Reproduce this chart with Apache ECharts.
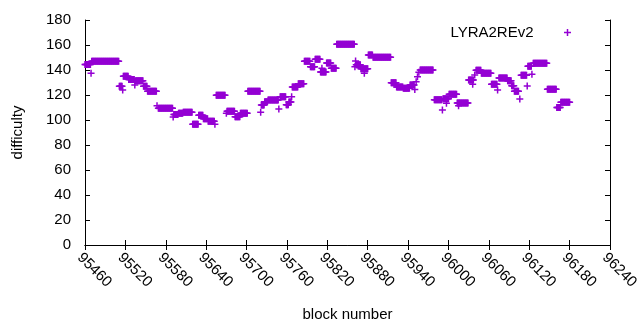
<!DOCTYPE html>
<html>
<head>
<meta charset="utf-8">
<script src="https://cdn.jsdelivr.net/npm/echarts@6/dist/echarts.min.js"></script>
<style>
html, body { margin: 0; padding: 0; background: #fff; }
#chart { width: 640px; height: 330px; }
</style>
</head>
<body>
<div id="chart"></div>
<script>
// runs of consecutive blocks that share one difficulty value
const runStart = [95460, 95470, 95511, 95517, 95525, 95535, 95547, 95553, 95569, 95592,
    95599, 95606, 95620, 95629, 95636, 95643, 95655, 95671, 95683, 95691,
    95702, 95722, 95727, 95732, 95750, 95759, 95763, 95768, 95777, 95786,
    95795, 95802, 95810, 95819, 95826, 95834, 95863, 95870, 95881, 95888,
    95915, 95923, 95933, 95943, 95958, 95979, 95992, 96001, 96013, 96030,
    96041, 96049, 96064, 96075, 96088, 96094, 96098, 96108, 96118, 96126,
    96147, 96161, 96167];
const runEnd = [95468, 95510, 95515, 95524, 95533, 95546, 95552, 95566, 95590, 95598,
    95605, 95619, 95628, 95635, 95642, 95652, 95668, 95682, 95690, 95701,
    95720, 95726, 95731, 95747, 95758, 95762, 95766, 95776, 95785, 95794,
    95801, 95809, 95818, 95825, 95833, 95860, 95869, 95880, 95887, 95914,
    95922, 95932, 95942, 95949, 95977, 95990, 96000, 96012, 96029, 96037,
    96048, 96063, 96072, 96087, 96093, 96097, 96104, 96116, 96123, 96146,
    96160, 96166, 96180];
const runValue = [144.5, 147, 127, 135, 132.5, 131.5, 127, 123, 109.5, 104.5,
    105.5, 106.2, 96.6, 103.8, 101, 99, 119.8, 107, 102.6, 105.4,
    123, 112, 114.6, 116, 118.6, 112.2, 114.4, 126.4, 129, 147,
    142.6, 148.6, 138.5, 145.6, 141.4, 160.6, 144.2, 141, 152, 150.2,
    129.8, 126.4, 125.4, 128, 140, 116.2, 117, 120.6, 113.6, 132,
    139.8, 137.4, 128.6, 133.6, 131.4, 127.4, 123, 135.8, 143, 145.4,
    124.6, 110, 114.2];

// single blocks away from the runs
const pointBlock = [95469, 95516, 95534, 95567, 95591, 95653, 95670, 95721, 95748, 95767,
    95812, 95861, 95862, 95875, 95950, 95952, 95954, 95956, 95991, 95997,
    96015, 96036, 96039, 96073, 96106, 96117, 96124];
const pointValue = [137.5, 124, 128, 111.5, 102.5, 96.6, 105.4, 106.2, 108.8, 118.6,
    141.4, 142.6, 147.2, 137.4, 124.5, 130.6, 134.6, 138.2, 108, 113.4,
    111.4, 128.6, 136, 124, 116.8, 127.2, 136.6];

const seriesName = 'LYRA2REv2';
const xMin = 95460, xMax = 96240, xStep = 60;
const yMin = 0, yMax = 180, yStep = 20;

const points = [];
runStart.forEach((s, i) => {
    for (let b = s; b <= runEnd[i]; b++) points.push([b, runValue[i]]);
});
pointBlock.forEach((b, i) => points.push([b, pointValue[i]]));

const purple = '#9400d3';
const plus = 'path://M0,2.75H7V4.25H0ZM2.75,0H4.25V7H2.75Z';
const font = 'Liberation Sans';

const tick = { show: true, inside: true, length: 5, lineStyle: { color: '#000' } };
const line = { show: true, lineStyle: { color: '#000', width: 1 } };

const chart = echarts.init(document.getElementById('chart'));
chart.setOption({
    animation: false,
    backgroundColor: '#fff',
    textStyle: { fontFamily: font },
    grid: { left: 85, right: 30, top: 20, bottom: 85, containLabel: false, outerBoundsMode: 'none' },
    legend: {
        data: [seriesName],
        right: 69,
        top: 25,
        padding: 0,
        align: 'right',
        itemWidth: 58,
        itemHeight: 7,
        textStyle: { fontSize: 15, color: '#000', fontFamily: font }
    },
    xAxis: [
        {
            type: 'value', min: xMin, max: xMax, interval: xStep,
            axisLine: line, axisTick: tick, splitLine: { show: false },
            axisLabel: {
                rotate: -45, fontSize: 15, color: '#000', margin: 5, fontFamily: font,
                verticalAlign: 'top',
                formatter: v => String(v)
            },
            name: 'block number', nameLocation: 'middle', nameGap: 62,
            nameTextStyle: { fontSize: 15, color: '#000', fontFamily: font }
        },
        {
            type: 'value', position: 'top', min: xMin, max: xMax, interval: xStep,
            axisLine: line, axisTick: tick, axisLabel: { show: false }, splitLine: { show: false }
        }
    ],
    yAxis: [
        {
            type: 'value', min: yMin, max: yMax, interval: yStep,
            axisLine: line, axisTick: tick, splitLine: { show: false },
            axisLabel: { fontSize: 15, color: '#000', margin: 14, fontFamily: font },
            name: 'difficulty', nameLocation: 'middle', nameGap: 60,
            nameTextStyle: { fontSize: 15, color: '#000', fontFamily: font }
        },
        {
            type: 'value', position: 'right', min: yMin, max: yMax, interval: yStep,
            axisLine: line, axisTick: tick, axisLabel: { show: false }, splitLine: { show: false }
        }
    ],
    series: [
        {
            name: seriesName,
            type: 'scatter',
            symbol: plus,
            symbolSize: 7,
            symbolKeepAspect: true,
            itemStyle: { color: purple, opacity: 1 },
            data: points
        }
    ]
});
</script>
</body>
</html>
